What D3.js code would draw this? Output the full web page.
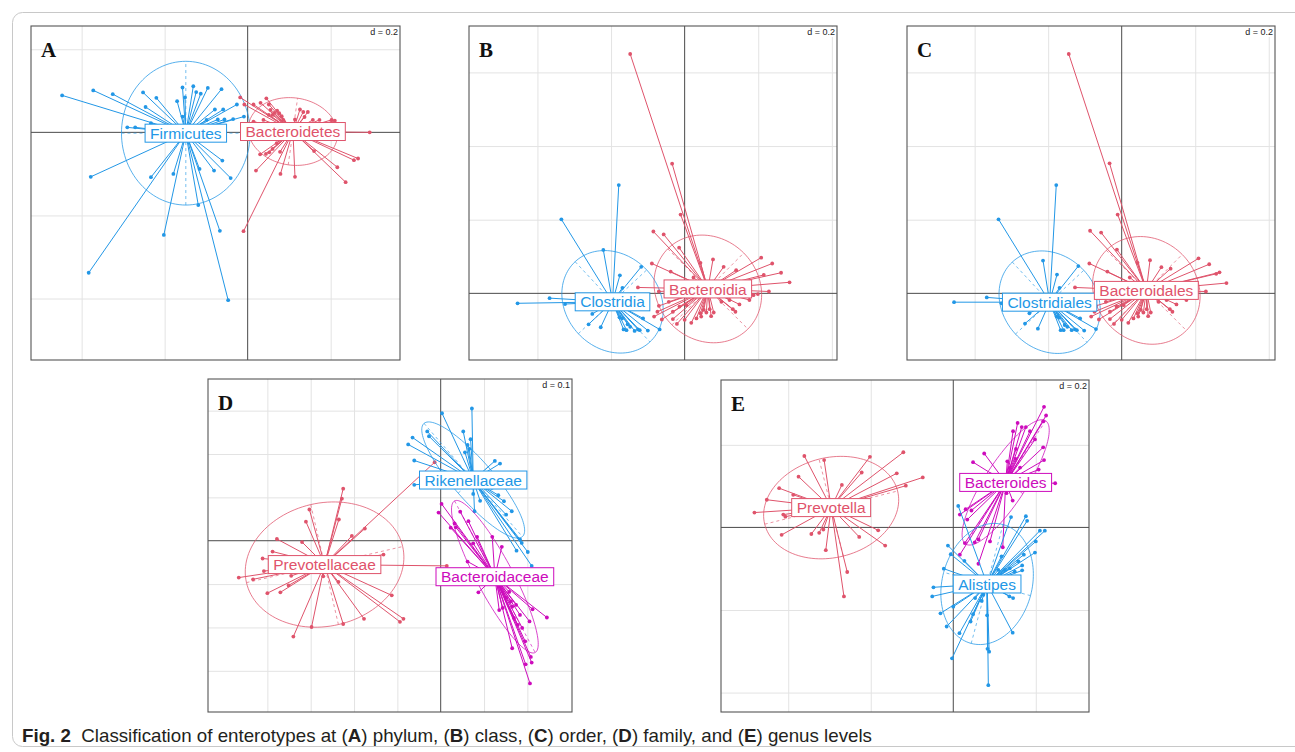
<!DOCTYPE html>
<html><head><meta charset="utf-8">
<script src="https://cdn.jsdelivr.net/npm/d3@7"></script>
<style>body{margin:0;background:#fff}svg{display:block}</style>
</head><body>
<svg id="fig" width="1295" height="752"></svg>
<script>
// ---------------- DATA ----------------
const panelLetters = ["A", "B", "C", "D", "E"];
const scaleLabels = ["d = 0.2", "d = 0.2", "d = 0.2", "d = 0.1", "d = 0.2"];
const xLimits = [[-0.522, 0.367], [-0.586, 0.414], [-0.584, 0.417], [-0.537, 0.303], [-0.563, 0.329]];
const yLimits = [[-0.548, 0.256], [-0.181, 0.726], [-0.181, 0.726], [-0.395, 0.373], [-0.447, 0.357]];
const gridX = [[-0.4, -0.2, 0.2], [-0.4, -0.2, 0.2, 0.4], [-0.4, -0.2, 0.2, 0.4], [-0.4, -0.3, -0.2, -0.1, 0.1, 0.2], [-0.4, -0.2, 0.2]];
const gridY = [[0.2, -0.2, -0.4], [0.2, 0.4, 0.6], [0.2, 0.4, 0.6], [0.3, 0.2, 0.1, -0.1, -0.2, -0.3], [0.2, -0.2, -0.4]];

const classNames = [
  ["Firmicutes", "Bacteroidetes"],
  ["Clostridia", "Bacteroidia"],
  ["Clostridiales", "Bacteroidales"],
  ["Prevotellaceae", "Rikenellaceae", "Bacteroidaceae"],
  ["Prevotella", "Bacteroides", "Alistipes"]
];
const classColorKeys = [["blue", "red"], ["blue", "red"], ["blue", "red"], ["red", "blue", "magenta"], ["red", "magenta", "blue"]];

// centroids [x, y]
const centroids = [
  [[-0.149, -0.002], [0.109, 0.002]],
  [[-0.196, -0.023], [0.063, 0.012]],
  [[-0.196, -0.024], [0.067, 0.008]],
  [[-0.268, -0.055], [0.075, 0.140], [0.125, -0.083]],
  [[-0.296, 0.048], [0.127, 0.109], [0.082, -0.137]]
];
// ellipses [semi-axis a, semi-axis b, angle of a in degrees]
const ellipses = [
  [[0.155, 0.173, 0], [0.108, 0.081, -8]],
  [[0.149, 0.127, -47], [0.154, 0.138, -45]],
  [[0.149, 0.127, -47], [0.154, 0.138, -45]],
  [[0.185, 0.142, 13], [0.173, 0.046, -49], [0.198, 0.042, -62]],
  [[0.166, 0.121, 14], [0.178, 0.050, 57], [0.149, 0.109, 75]]
];

const A_Firmicutes = [[-0.447,0.089],[-0.372,0.101],[-0.325,0.092],[-0.252,0.096],[-0.220,0.083],[-0.246,0.061],[-0.170,0.075],[-0.157,0.108],[-0.151,0.084],[-0.131,0.111],[-0.124,0.097],[-0.113,0.093],[-0.096,0.107],[-0.063,0.104],[-0.079,0.055],[-0.059,0.055],[-0.026,0.067],[-0.009,0.038],[-0.035,0.032],[-0.056,0.031],[-0.072,0.031],[-0.290,0.012],[-0.271,0.012],[-0.378,-0.107],[-0.233,-0.108],[-0.179,-0.100],[-0.116,-0.088],[-0.081,-0.092],[-0.061,-0.068],[-0.041,-0.110],[-0.119,-0.175],[-0.202,-0.247],[-0.067,-0.237],[-0.383,-0.338],[-0.047,-0.404],[-0.157,0.038],[-0.099,0.030],[-0.233,0.022]];
const A_Bacteroidetes = [[-0.018,0.084],[-0.008,0.067],[0.014,0.067],[0.031,0.071],[0.045,0.082],[0.051,0.067],[0.055,0.054],[0.060,0.042],[0.064,0.047],[0.071,0.052],[0.076,0.046],[0.082,0.039],[0.086,0.030],[0.051,0.042],[0.038,0.030],[0.114,0.031],[0.134,0.049],[0.145,0.049],[0.137,0.037],[0.157,0.030],[0.173,0.030],[0.202,0.030],[0.210,0.028],[0.294,0.000],[0.030,-0.053],[0.044,-0.052],[0.052,-0.048],[0.060,-0.040],[0.070,-0.026],[0.078,-0.047],[0.020,-0.092],[0.079,-0.100],[0.114,-0.107],[0.160,-0.045],[0.216,-0.084],[0.256,-0.067],[0.266,-0.063],[0.236,-0.120],[-0.010,-0.238],[0.014,0.026],[0.126,0.055]];

const B_Clostridia = [[-0.454,-0.027],[-0.367,-0.013],[-0.325,-0.029],[-0.335,0.201],[-0.179,0.294],[-0.221,0.118],[-0.176,0.049],[-0.169,0.015],[-0.118,0.072],[-0.251,-0.056],[-0.261,-0.084],[-0.228,-0.092],[-0.177,-0.065],[-0.170,-0.068],[-0.166,-0.098],[-0.158,-0.100],[-0.155,-0.084],[-0.148,-0.091],[-0.136,-0.102],[-0.127,-0.098],[-0.122,-0.100],[-0.113,-0.068],[-0.100,-0.101],[-0.068,-0.098]];
const B_Bacteroidia = [[-0.148,0.650],[-0.034,0.352],[-0.011,0.214],[-0.085,0.168],[-0.057,0.160],[-0.015,0.124],[-0.089,0.081],[-0.038,0.059],[0.024,0.043],[0.043,0.083],[0.077,0.092],[0.106,0.072],[0.140,0.063],[0.208,0.097],[0.238,0.081],[0.262,0.056],[0.215,0.050],[0.285,0.030],[0.229,0.005],[-0.127,0.016],[-0.070,0.005],[0.187,-0.005],[0.199,-0.002],[0.176,-0.018],[0.149,-0.030],[0.131,-0.043],[0.138,-0.050],[-0.070,-0.034],[-0.074,-0.050],[-0.083,-0.063],[-0.062,-0.071],[-0.032,-0.070],[-0.021,-0.083],[0.000,-0.072],[0.018,-0.080],[0.032,-0.068],[0.043,-0.054],[0.052,-0.045],[0.059,-0.052],[0.068,-0.043],[0.079,-0.052],[0.072,-0.062],[0.045,-0.063],[-0.032,-0.050],[-0.014,-0.036],[0.005,-0.032],[-0.043,-0.023],[0.100,-0.023],[0.122,-0.018]];

const C_Clostridiales = [[-0.456,-0.024],[-0.367,-0.011],[-0.327,-0.027],[-0.335,0.201],[-0.178,0.294],[-0.214,0.089],[-0.176,0.051],[-0.169,0.015],[-0.118,0.074],[-0.251,-0.054],[-0.263,-0.082],[-0.228,-0.096],[-0.177,-0.063],[-0.170,-0.066],[-0.166,-0.100],[-0.158,-0.100],[-0.155,-0.086],[-0.148,-0.091],[-0.136,-0.100],[-0.127,-0.098],[-0.122,-0.100],[-0.113,-0.068],[-0.102,-0.101],[-0.070,-0.097]];
const C_Bacteroidales = [[-0.144,0.650],[-0.033,0.353],[-0.011,0.214],[-0.086,0.170],[-0.056,0.165],[-0.013,0.119],[-0.088,0.081],[-0.039,0.059],[0.022,0.043],[0.043,0.083],[0.077,0.090],[0.108,0.071],[0.133,0.067],[0.209,0.095],[0.238,0.079],[0.257,0.053],[0.266,0.057],[0.285,0.028],[0.229,0.005],[-0.127,0.016],[-0.070,0.005],[0.187,-0.005],[0.199,-0.002],[0.176,-0.018],[0.149,-0.030],[0.131,-0.043],[0.138,-0.050],[-0.070,-0.034],[-0.074,-0.050],[-0.083,-0.063],[-0.062,-0.071],[-0.032,-0.070],[-0.021,-0.083],[0.000,-0.072],[0.018,-0.080],[0.032,-0.068],[0.043,-0.054],[0.052,-0.045],[0.059,-0.052],[0.068,-0.043],[0.079,-0.052],[0.072,-0.062],[0.045,-0.063],[-0.032,-0.050],[-0.014,-0.036],[0.005,-0.032],[-0.043,-0.023],[0.100,-0.023],[0.122,-0.018]];

const D_Prevotellaceae = [[-0.225,0.120],[-0.228,0.097],[-0.303,0.072],[-0.311,0.044],[-0.235,0.049],[-0.205,0.011],[-0.175,0.028],[-0.378,0.004],[-0.320,-0.003],[-0.388,-0.025],[-0.411,-0.041],[-0.408,-0.070],[-0.466,-0.085],[-0.433,-0.089],[-0.345,-0.081],[-0.351,-0.103],[-0.370,-0.119],[-0.400,-0.121],[-0.271,-0.082],[-0.236,-0.095],[-0.132,-0.032],[-0.113,-0.126],[-0.177,-0.180],[-0.225,-0.192],[-0.298,-0.199],[-0.340,-0.221],[-0.094,-0.187],[-0.086,-0.180],[-0.014,0.181],[0.014,-0.058]];
const D_Rikenellaceae = [[0.003,0.294],[0.072,0.305],[0.052,0.252],[0.069,0.234],[0.062,0.221],[0.066,0.212],[0.056,0.204],[-0.031,0.252],[-0.027,0.241],[-0.065,0.238],[-0.075,0.222],[-0.061,0.185],[-0.061,0.129],[0.125,0.184],[0.137,0.178],[0.075,0.108],[0.091,0.092],[0.078,0.068],[0.118,0.122],[0.133,0.105],[0.146,0.091],[0.164,0.068],[0.151,0.060],[0.183,0.003],[0.187,-0.005],[0.201,-0.026],[0.175,-0.023],[0.210,-0.058],[0.105,0.122]];
const D_Bacteroidaceae = [[0.002,0.085],[-0.005,0.065],[0.023,0.030],[0.032,0.040],[0.035,0.031],[0.045,0.067],[0.064,0.045],[0.075,-0.006],[0.084,0.009],[0.119,0.009],[0.141,-0.014],[0.062,-0.048],[0.087,-0.119],[0.135,-0.160],[0.158,-0.118],[0.162,-0.140],[0.165,-0.152],[0.174,-0.148],[0.169,-0.178],[0.183,-0.171],[0.178,-0.194],[0.188,-0.201],[0.195,-0.232],[0.205,-0.186],[0.212,-0.158],[0.245,-0.177],[0.165,-0.248],[0.208,-0.268],[0.210,-0.281],[0.196,-0.285],[0.206,-0.329],[0.151,-0.132],[0.143,-0.155]];

const E_Prevotella = [[-0.361,0.173],[-0.313,0.163],[-0.202,0.171],[-0.121,0.182],[-0.375,0.123],[-0.222,0.133],[-0.137,0.131],[-0.115,0.101],[-0.074,0.121],[-0.270,0.103],[-0.422,0.095],[-0.388,0.079],[-0.452,0.067],[-0.482,0.036],[-0.412,0.031],[-0.407,0.026],[-0.416,-0.018],[-0.344,-0.016],[-0.325,-0.013],[-0.315,-0.005],[-0.309,-0.055],[-0.228,-0.023],[-0.182,-0.007],[-0.165,-0.044],[-0.257,-0.108],[-0.265,-0.167]];
const E_Bacteroides = [[0.220,0.292],[0.225,0.271],[0.218,0.257],[0.156,0.253],[0.166,0.243],[0.176,0.243],[0.186,0.233],[0.198,0.213],[0.152,0.190],[0.218,0.194],[0.151,0.166],[0.162,0.145],[0.131,0.160],[0.220,0.163],[0.075,0.179],[0.048,0.158],[0.207,0.140],[0.247,0.107],[0.129,0.083],[0.144,0.065],[0.030,0.044],[0.016,0.031],[0.044,0.041],[0.034,0.019],[0.028,-0.038],[0.052,-0.036],[0.061,-0.029],[0.089,-0.034],[0.120,-0.048],[0.061,-0.088],[0.016,-0.066],[0.145,0.233],[0.137,0.144]];
const E_Alistipes = [[0.012,0.052],[0.140,0.025],[0.176,0.027],[0.179,0.016],[0.210,-0.008],[0.222,-0.008],[0.200,-0.034],[0.198,-0.061],[-0.013,-0.044],[-0.006,-0.065],[-0.023,-0.100],[-0.048,-0.145],[-0.051,-0.167],[-0.031,-0.208],[-0.016,-0.240],[0.015,-0.256],[-0.003,-0.317],[0.085,-0.382],[0.083,-0.294],[0.087,-0.301],[0.082,-0.213],[0.048,-0.210],[0.042,-0.228],[0.000,-0.192],[0.053,-0.171],[0.073,-0.163],[0.069,-0.178],[0.136,-0.167],[0.145,-0.171],[0.144,-0.255],[0.167,-0.092],[0.167,-0.104],[0.149,-0.107],[0.137,-0.099],[0.125,-0.103],[0.158,-0.082],[0.171,-0.066],[0.117,-0.070],[0.109,-0.103],[0.027,-0.081]];

const classPoints = [
  [A_Firmicutes, A_Bacteroidetes],
  [B_Clostridia, B_Bacteroidia],
  [C_Clostridiales, C_Bacteroidales],
  [D_Prevotellaceae, D_Rikenellaceae, D_Bacteroidaceae],
  [E_Prevotella, E_Bacteroides, E_Alistipes]
];

const captionParts = [
  ["Fig. 2", true], ["  Classification of enterotypes at (", false], ["A", true], [") phylum, (", false],
  ["B", true], [") class, (", false], ["C", true], [") order, (", false], ["D", true],
  [") family, and (", false], ["E", true], [") genus levels", false]
];

// ---------------- STYLE / LAYOUT ----------------
const palette = { red: "#DF536B", blue: "#2297E6", magenta: "#CD0BBC" };
const frames = [
  { x: 31, y: 26, w: 369, h: 334 },
  { x: 469, y: 26, w: 368, h: 334 },
  { x: 907, y: 26, w: 368, h: 334 },
  { x: 208, y: 379, w: 364, h: 333 },
  { x: 721, y: 380, w: 368, h: 332 }
];

const svg = d3.select("#fig");
svg.append("rect").attr("x", 12.5).attr("y", 12.5).attr("width", 1300).attr("height", 734)
  .attr("rx", 10).attr("fill", "#fff").attr("stroke", "#c8c8c8").attr("stroke-width", 1);

frames.forEach((fr, i) => {
  const x = d3.scaleLinear().domain(xLimits[i]).range([fr.x, fr.x + fr.w]);
  const y = d3.scaleLinear().domain(yLimits[i]).range([fr.y + fr.h, fr.y]);
  const g = svg.append("g");
  const clipId = "clip" + i;
  svg.append("clipPath").attr("id", clipId).append("rect")
    .attr("x", fr.x).attr("y", fr.y).attr("width", fr.w).attr("height", fr.h);
  g.append("rect").attr("x", fr.x).attr("y", fr.y).attr("width", fr.w).attr("height", fr.h).attr("fill", "#fff");
  const inner = g.append("g").attr("clip-path", `url(#${clipId})`);

  // grid via d3 axes
  const gx = inner.append("g").attr("transform", `translate(0,${fr.y})`)
    .call(d3.axisTop(x).tickValues(gridX[i]).tickSize(-fr.h).tickFormat(""));
  const gy = inner.append("g").attr("transform", `translate(${fr.x},0)`)
    .call(d3.axisLeft(y).tickValues(gridY[i]).tickSize(-fr.w).tickFormat(""));
  [gx, gy].forEach(a => {
    a.select(".domain").remove();
    a.selectAll("line").attr("stroke", "#e3e3e3").attr("stroke-width", 1);
  });
  // origin axes
  inner.append("line").attr("x1", fr.x).attr("x2", fr.x + fr.w).attr("y1", y(0)).attr("y2", y(0))
    .attr("stroke", "#4a4a4a").attr("stroke-width", 1);
  inner.append("line").attr("x1", x(0)).attr("x2", x(0)).attr("y1", fr.y).attr("y2", fr.y + fr.h)
    .attr("stroke", "#4a4a4a").attr("stroke-width", 1);

  const line = d3.line().x(d => x(d[0])).y(d => y(d[1]));
  const names = classNames[i];

  names.forEach((nm, k) => {
    const col = palette[classColorKeys[i][k]];
    const c = centroids[i][k];
    const [a, b, ang] = ellipses[i][k];
    const th = ang * Math.PI / 180;
    const ell = d3.range(0, 2 * Math.PI + 0.001, Math.PI / 60).map(t => [
      c[0] + a * Math.cos(t) * Math.cos(th) - b * Math.sin(t) * Math.sin(th),
      c[1] + a * Math.cos(t) * Math.sin(th) + b * Math.sin(t) * Math.cos(th)
    ]);
    inner.append("path").attr("d", line(ell)).attr("fill", "none").attr("stroke", col)
      .attr("stroke-width", 0.9).attr("stroke-opacity", 0.85);
    const axA = [[c[0] - a * Math.cos(th), c[1] - a * Math.sin(th)], [c[0] + a * Math.cos(th), c[1] + a * Math.sin(th)]];
    const axB = [[c[0] + b * Math.sin(th), c[1] - b * Math.cos(th)], [c[0] - b * Math.sin(th), c[1] + b * Math.cos(th)]];
    [axA, axB].forEach(s => inner.append("path").attr("d", line(s)).attr("fill", "none")
      .attr("stroke", col).attr("stroke-width", 0.9).attr("stroke-opacity", 0.7).attr("stroke-dasharray", "3,3"));

    const pts = classPoints[i][k];
    inner.append("g").selectAll("line").data(pts).join("line")
      .attr("x1", d => x(d[0])).attr("y1", d => y(d[1]))
      .attr("x2", x(c[0])).attr("y2", y(c[1]))
      .attr("stroke", col).attr("stroke-width", 1);
    inner.append("g").selectAll("circle").data(pts).join("circle")
      .attr("cx", d => x(d[0])).attr("cy", d => y(d[1])).attr("r", 1.9).attr("fill", col);
  });

  // labels
  names.forEach((nm, k) => {
    const col = palette[classColorKeys[i][k]];
    const c = centroids[i][k];
    const lg = inner.append("g");
    const r = lg.append("rect");
    const t = lg.append("text").attr("x", x(c[0])).attr("y", y(c[1]) + 5.6)
      .attr("text-anchor", "middle").attr("font-family", "Liberation Sans, Arial, sans-serif")
      .attr("font-size", 15.5).attr("fill", col).text(nm);
    const w = t.node().getComputedTextLength() + 10;
    r.attr("x", x(c[0]) - w / 2).attr("y", y(c[1]) - 9).attr("width", w).attr("height", 18)
      .attr("fill", "#fff").attr("stroke", col).attr("stroke-width", 1);
  });

  // d = label
  const dg = inner.append("g");
  const dr = dg.append("rect");
  const dt = dg.append("text").attr("x", fr.x + fr.w - 2).attr("y", fr.y + 9)
    .attr("text-anchor", "end").attr("font-family", "Liberation Sans, Arial, sans-serif")
    .attr("font-size", 9).attr("fill", "#222").text(scaleLabels[i]);
  const dw = dt.node().getComputedTextLength();
  dr.attr("x", fr.x + fr.w - dw - 4).attr("y", fr.y + 1).attr("width", dw + 3).attr("height", 10).attr("fill", "#fff");

  // panel letter
  g.append("text").attr("x", fr.x + 10).attr("y", fr.y + 31)
    .attr("font-family", "Liberation Serif, Times New Roman, serif").attr("font-weight", "bold")
    .attr("font-size", 21).attr("fill", "#111").text(panelLetters[i]);

  // frame
  g.append("rect").attr("x", fr.x).attr("y", fr.y).attr("width", fr.w).attr("height", fr.h)
    .attr("fill", "none").attr("stroke", "#555").attr("stroke-width", 1.1);
});

// caption
const cap = svg.append("text").attr("x", 22).attr("y", 742)
  .attr("font-family", "Liberation Sans Narrow, Arial Narrow, Liberation Sans, sans-serif")
  .attr("font-size", 18.5).attr("fill", "#231f20").attr("xml:space", "preserve");
captionParts.forEach(([s, bold]) => cap.append("tspan").attr("font-weight", bold ? "bold" : "normal").text(s));
cap.attr("textLength", 850).attr("lengthAdjust", "spacingAndGlyphs");
</script>
</body></html>
